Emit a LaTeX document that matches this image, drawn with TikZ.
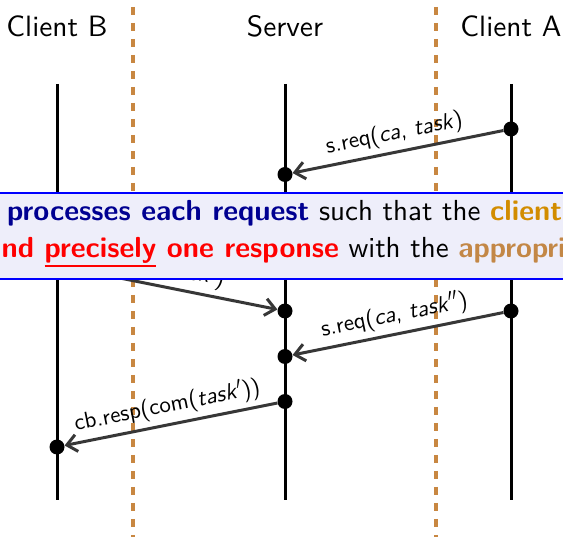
\documentclass[tikz,border=0pt]{standalone}
\usepackage{fontspec}
% design-size 10 Latin Modern Sans at every size
\setsansfont{lmsans10}[Extension=.otf, UprightFont=*-regular, BoldFont=*-bold,
  ItalicFont=*-oblique, BoldItalicFont=*-boldoblique]
\usetikzlibrary{arrows.meta}

\definecolor{sepbrown}{RGB}{200,135,65}
\definecolor{msgcol}{RGB}{55,55,55}
\definecolor{bannerfill}{RGB}{238,238,250}
\definecolor{bannerline}{RGB}{0,0,255}
\definecolor{keyblue}{RGB}{0,0,145}
\definecolor{clientgold}{RGB}{210,140,0}
\definecolor{apprbrown}{RGB}{195,135,70}

% red underline drawn as a rule below the word
\newcommand\redunderline[1]{\setbox0\hbox{#1}\rlap{\rule[-9pt]{\wd0}{1.6pt}}\box0\relax}

\tikzset{
  lifeline/.style={line width=3pt, black},
  separator/.style={sepbrown, line width=3.5pt, dash pattern=on 8pt off 8pt},
  event/.style={circle, fill=black, inner sep=0pt, minimum size=15pt},
  msg/.style={msgcol, line width=3pt, -{Straight Barb[length=10pt,width=17pt]}},
  msglabel/.style={sloped, above, font=\fontsize{23}{27}\selectfont\sffamily, text=black, inner sep=5pt},
  header/.style={anchor=base, font=\fontsize{29.4}{35}\selectfont\sffamily, inner sep=0pt},
  bannerbox/.style={draw=bannerline, fill=bannerfill, line width=2.5pt, minimum width=620pt, minimum height=86pt, inner sep=0pt},
  bannertext/.style={anchor=base west, inner sep=0pt, font=\fontsize{29}{35}\selectfont\sffamily},
}

\begin{document}
\begin{tikzpicture}[x=1pt,y=-1pt]
\useasboundingbox (0,0) rectangle (563,537);

% column headers
\node[header] (hB) at (57,37) {Client B};
\node[header] (hS) at (285,37) {Server};
\node[header] (hA) at (511,37) {Client A};

% separators between the parties
\coordinate (sep1top) at (133,-9);
\coordinate (sep1bot) at (133,545);
\coordinate (sep2top) at (436,-9);
\coordinate (sep2bot) at (436,545);
\draw[separator] (sep1top) -- (sep1bot);
\draw[separator] (sep2top) -- (sep2bot);

% lifelines
\coordinate (Btop) at (57,84);  \coordinate (Bbot) at (57,500);
\coordinate (Stop) at (285,84); \coordinate (Sbot) at (285,500);
\coordinate (Atop) at (511,84); \coordinate (Abot) at (511,500);
\draw[lifeline] (Btop) -- (Bbot);
\draw[lifeline] (Stop) -- (Sbot);
\draw[lifeline] (Atop) -- (Abot);

% events
\node[event] (a1) at (511,129) {};
\node[event] (s1) at (285,174.5) {};
\node[event] (b1) at (57,265.5) {};
\node[event] (s2) at (285,311) {};
\node[event] (a2) at (511,311) {};
\node[event] (s3) at (285,356.5) {};
\node[event] (s4) at (285,401.5) {};
\node[event] (b2) at (57,447) {};

% messages
\draw[msg] (a1) -- node[msglabel] (l1) {s.req(\textit{ca}, \textit{task})} (s1);
\draw[msg] (b1) -- node[msglabel, pos=0.4] (l2) {s.req(\textit{cb}, \textit{task}$'$)} (s2);
\draw[msg] (a2) -- node[msglabel] (l3) {s.req(\textit{ca}, \textit{task}$''$)} (s3);
\draw[msg] (s4) -- node[msglabel] (l4) {cb.resp(com(\textit{task}$'$))} (b2);

% banner
\node[bannerbox] (banner) at (281.5,236) {};
\node[bannertext] (line1) at (7,221)
  {\textcolor{keyblue}{\bfseries processes each request} such that the \textcolor{clientgold}{\bfseries client}};
\node[bannertext] (line2) at (-13.9,258)
  {\textcolor{red}{\bfseries and \redunderline{precisely} one response} with the \textcolor{apprbrown}{\bfseries appropriate}};
\end{tikzpicture}
\end{document}
